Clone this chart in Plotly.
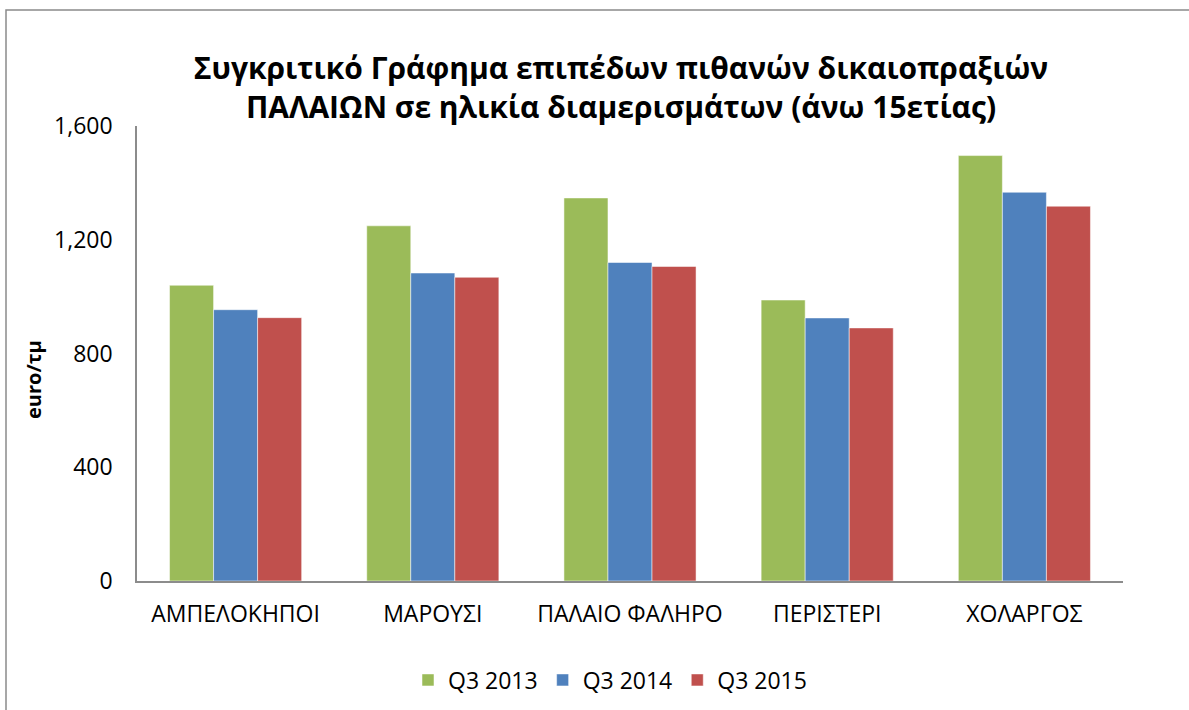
import plotly.graph_objects as go

categories = ["ΑΜΠΕΛΟΚΗΠΟΙ", "ΜΑΡΟΥΣΙ", "ΠΑΛΑΙΟ ΦΑΛΗΡΟ", "ΠΕΡΙΣΤΕΡΙ", "ΧΟΛΑΡΓΟΣ"]
q3_2013 = [1040, 1249, 1347, 988, 1496]
q3_2014 = [954, 1083, 1120, 925, 1367]
q3_2015 = [926, 1068, 1106, 890, 1318]
series_names = ["Q3 2013", "Q3 2014", "Q3 2015"]
colors = ["#9BBB59", "#4F81BD", "#C0504D"]
y_ticks = [0, 400, 800, 1200, 1600]
y_tick_labels = ["0", "400", "800", "1,200", "1,600"]

FONT = "Open Sans"
W, H = 1189, 710
L, T = 137, 126
R = W - 1123
B = H - 581
pw, ph = W - L - R, H - T - B

fig = go.Figure()
for name, vals, c in zip(series_names, [q3_2013, q3_2014, q3_2015], colors):
    fig.add_trace(go.Bar(
        x=categories, y=vals, name=name,
        marker=dict(color=c, line=dict(color="rgba(255,255,255,0.5)", width=1)),
    ))

def px_x(px):
    return (px - L) / pw

def px_y(py):
    return (H - B - py) / ph

fig.update_layout(
    width=W, height=H,
    margin=dict(l=L, r=R, t=T, b=B, autoexpand=False),
    paper_bgcolor="white", plot_bgcolor="white",
    barmode="group", bargap=0.33, bargroupgap=0,
    font=dict(family=FONT, size=23, color="#000000"),
    title=dict(
        text="Συγκριτικό Γράφημα επιπέδων πιθανών δικαιοπραξιών<br>ΠΑΛΑΙΩΝ σε ηλικία διαμερισμάτων (άνω 15ετίας)",
        x=621 / W, xanchor="center", xref="container",
        y=1 - 79 / H, yanchor="middle", yref="container",
        font=dict(family=FONT, size=30, color="#000000", weight="bold"),
    ),
    xaxis=dict(
        showline=True, linecolor="#8c8c8c", linewidth=1.5,
        showgrid=False, ticks="", ticklabelstandoff=12,
        tickfont=dict(family=FONT, size=23),
    ),
    yaxis=dict(
        range=[0, 1600], tickvals=y_ticks, ticktext=y_tick_labels,
        showline=True, linecolor="#8c8c8c", linewidth=1.5,
        showgrid=False, zeroline=False, ticks="", ticklabelstandoff=18,
        tickfont=dict(family=FONT, size=23),
    ),
    annotations=[dict(
        text="<b>euro/τμ</b>", textangle=-90, showarrow=False,
        xref="paper", yref="paper", x=px_x(33), y=px_y(380),
        xanchor="center", yanchor="middle",
        font=dict(family=FONT, size=20, color="#000000"),
    )],
    legend=dict(
        orientation="h", x=px_x(610), xanchor="center", y=px_y(680), yanchor="middle",
        font=dict(family=FONT, size=23), traceorder="normal",
        itemwidth=30,
    ),
    shapes=[dict(
        type="rect", xref="paper", yref="paper",
        x0=px_x(6), x1=px_x(1300), y0=px_y(800), y1=px_y(10),
        line=dict(color="#8a8a8a", width=1.5), fillcolor="rgba(0,0,0,0)", layer="below",
    )],
)

fig.write_html(
    "out.html",
    config={"displayModeBar": False},
    post_script="document.body.style.margin='0';document.body.style.overflow='hidden';",
)
